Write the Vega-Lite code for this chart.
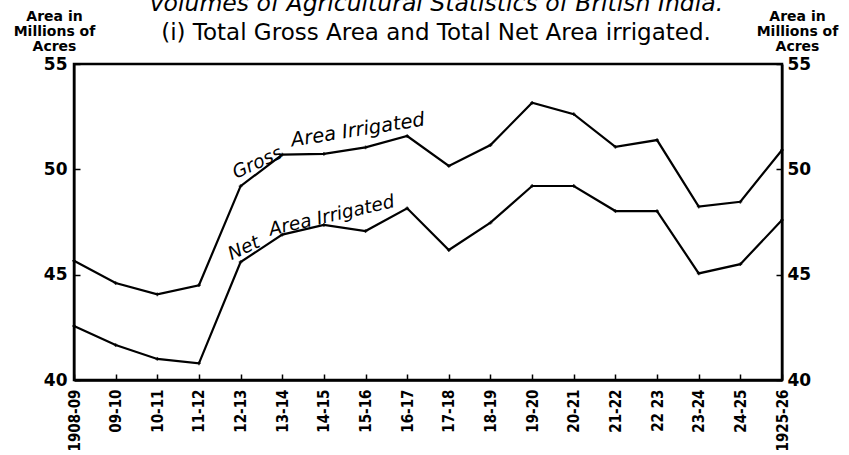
{
  "$schema": "https://vega.github.io/schema/vega-lite/v6.json",
  "autosize": "none",
  "width": 708,
  "height": 316,
  "padding": {"left": 74, "top": 64, "right": 67, "bottom": 75},
  "background": "white",
  "config": {
    "view": {"stroke": "black", "strokeWidth": 2.5},
    "axis": {"grid": false, "domainColor": "black", "domainWidth": 2, "tickColor": "black", "tickWidth": 1.5, "labelColor": "black", "titleColor": "black"}
  },
  "title": {
    "text": "Volumes of Agricultural Statistics of British India.",
    "subtitle": "(i) Total Gross Area and Total Net Area irrigated.",
    "anchor": "middle",
    "frame": "group",
    "dx": 8,
    "offset": -36,
    "font": "DejaVu Sans",
    "fontStyle": "italic",
    "fontWeight": "normal",
    "fontSize": 23.5,
    "color": "black",
    "subtitleFont": "DejaVu Sans",
    "subtitleFontWeight": "normal",
    "subtitleFontSize": 23,
    "subtitleColor": "black",
    "subtitlePadding": 7
  },
  "datasets": {
    "series": [
      {"year": "1908-09", "series": "Gross", "value": 45.66},
      {"year": "09-10", "series": "Gross", "value": 44.6},
      {"year": "10-11", "series": "Gross", "value": 44.07},
      {"year": "11-12", "series": "Gross", "value": 44.5},
      {"year": "12-13", "series": "Gross", "value": 49.2},
      {"year": "13-14", "series": "Gross", "value": 50.7},
      {"year": "14-15", "series": "Gross", "value": 50.73},
      {"year": "15-16", "series": "Gross", "value": 51.04},
      {"year": "16-17", "series": "Gross", "value": 51.58},
      {"year": "17-18", "series": "Gross", "value": 50.16},
      {"year": "18-19", "series": "Gross", "value": 51.15},
      {"year": "19-20", "series": "Gross", "value": 53.16},
      {"year": "20-21", "series": "Gross", "value": 52.62},
      {"year": "21-22", "series": "Gross", "value": 51.07},
      {"year": "22 23", "series": "Gross", "value": 51.39},
      {"year": "23-24", "series": "Gross", "value": 48.23},
      {"year": "24-25", "series": "Gross", "value": 48.46},
      {"year": "1925-26", "series": "Gross", "value": 50.92},
      {"year": "1908-09", "series": "Net", "value": 42.56},
      {"year": "09-10", "series": "Net", "value": 41.66},
      {"year": "10-11", "series": "Net", "value": 41.0},
      {"year": "11-12", "series": "Net", "value": 40.79},
      {"year": "12-13", "series": "Net", "value": 45.6},
      {"year": "13-14", "series": "Net", "value": 46.9},
      {"year": "14-15", "series": "Net", "value": 47.36},
      {"year": "15-16", "series": "Net", "value": 47.07},
      {"year": "16-17", "series": "Net", "value": 48.15},
      {"year": "17-18", "series": "Net", "value": 46.17},
      {"year": "18-19", "series": "Net", "value": 47.47},
      {"year": "19-20", "series": "Net", "value": 49.21},
      {"year": "20-21", "series": "Net", "value": 49.21},
      {"year": "21-22", "series": "Net", "value": 48.02},
      {"year": "22 23", "series": "Net", "value": 48.02},
      {"year": "23-24", "series": "Net", "value": 45.06},
      {"year": "24-25", "series": "Net", "value": 45.5},
      {"year": "1925-26", "series": "Net", "value": 47.59}
    ]
  },
  "resolve": {"axis": {"y": "independent", "x": "shared"}},
  "layer": [
    {
      "data": {"name": "series"},
      "mark": {"type": "line", "color": "black", "strokeWidth": 2.2},
      "encoding": {
        "x": {
          "field": "year", "type": "ordinal", "sort": null,
          "scale": {"type": "point", "padding": 0},
          "axis": {"title": null, "labelAngle": -90, "labelFont": "DejaVu Sans Condensed", "labelFontWeight": "bold", "labelFontSize": 15, "labelPadding": 15, "tickSize": -6, "domainWidth": 2.5}
        },
        "y": {
          "field": "value", "type": "quantitative",
          "scale": {"domain": [40, 55], "nice": false, "zero": false},
          "axis": {
            "orient": "left", "values": [40, 45, 50, 55], "tickSize": -6,
            "labelFont": "DejaVu Sans", "labelFontWeight": "bold", "labelFontSize": 17, "labelPadding": 13,
            "title": ["Area in", "Millions of", "Acres"],
            "titleAngle": 0, "titleAlign": "center", "titleBaseline": "top",
            "titleX": -20, "titleY": -55, "titleFont": "DejaVu Sans", "titleFontWeight": "bold", "titleFontSize": 14, "titleLineHeight": 15
          }
        },
        "detail": {"field": "series"}
      }
    },
    {
      "data": {"name": "series"},
      "mark": {"type": "point", "shape": "cross", "filled": true, "color": "black", "size": 14},
      "encoding": {
        "x": {"field": "year", "type": "ordinal", "sort": null},
        "y": {
          "field": "value", "type": "quantitative",
          "axis": {
            "orient": "right", "values": [40, 45, 50, 55], "tickSize": -6,
            "labelFont": "DejaVu Sans", "labelFontWeight": "bold", "labelFontSize": 17, "labelPadding": 11,
            "title": ["Area in", "Millions of", "Acres"],
            "titleAngle": 0, "titleAlign": "center", "titleBaseline": "top",
            "titleX": 15, "titleY": -55, "titleFont": "DejaVu Sans", "titleFontWeight": "bold", "titleFontSize": 14, "titleLineHeight": 15
          }
        }
      }
    },
    {
      "data": {"values": [{"year": "12-13", "value": 49.64, "label": "Gross"}]},
      "mark": {"type": "text", "angle": 335, "dx": -5, "align": "left", "baseline": "alphabetic", "font": "DejaVu Sans", "fontStyle": "italic", "fontSize": 18.5, "color": "black"},
      "encoding": {
        "x": {"field": "year", "type": "ordinal", "sort": null},
        "y": {"field": "value", "type": "quantitative", "axis": null},
        "text": {"field": "label"}
      }
    },
    {
      "data": {"values": [{"year": "12-13", "value": 45.89, "label": "Net"}]},
      "mark": {"type": "text", "angle": 335, "dx": -10, "align": "left", "baseline": "alphabetic", "font": "DejaVu Sans", "fontStyle": "italic", "fontSize": 18.5, "color": "black"},
      "encoding": {
        "x": {"field": "year", "type": "ordinal", "sort": null},
        "y": {"field": "value", "type": "quantitative", "axis": null},
        "text": {"field": "label"}
      }
    },
    {
      "data": {"values": [{"year": "13-14", "value": 51.01, "label": "Area Irrigated"}]},
      "mark": {"type": "text", "angle": 351, "dx": 10, "align": "left", "baseline": "alphabetic", "font": "DejaVu Sans", "fontStyle": "italic", "fontSize": 19.5, "color": "black"},
      "encoding": {
        "x": {"field": "year", "type": "ordinal", "sort": null},
        "y": {"field": "value", "type": "quantitative", "axis": null},
        "text": {"field": "label"}
      }
    },
    {
      "data": {"values": [{"year": "13-14", "value": 46.98, "label": "Area Irrigated"}]},
      "mark": {"type": "text", "angle": 347, "dx": -12, "align": "left", "baseline": "alphabetic", "font": "DejaVu Sans", "fontStyle": "italic", "fontSize": 18.5, "color": "black"},
      "encoding": {
        "x": {"field": "year", "type": "ordinal", "sort": null},
        "y": {"field": "value", "type": "quantitative", "axis": null},
        "text": {"field": "label"}
      }
    }
  ]
}
